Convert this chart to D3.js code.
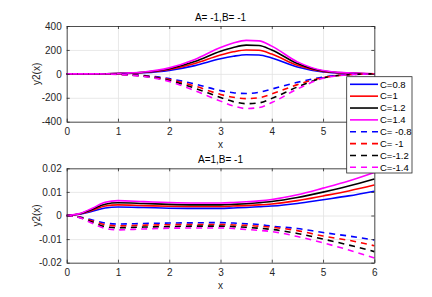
<!DOCTYPE html>
<meta charset="utf-8">
<style>

body {
  margin: 0;
  background: #fff;
  font-family: "Liberation Sans", Arial, sans-serif;
}

.axis text { font-size: 10px; fill: #262626; font-family: "Liberation Sans", Arial, sans-serif; }
.axis path, .axis line { stroke: #262626; stroke-width: 0.8px; fill: none; }
.grid line { stroke: #e2e2e2; stroke-width: 0.8px; }
.grid path { stroke: none; }
.title { font-size: 10px; fill: #000; text-anchor: middle; }
.label { font-size: 10px; fill: #262626; text-anchor: middle; }
.legend text { font-size: 9.5px; fill: #000; }
.series { fill: none; stroke-width: 1.6px; }

</style>
<body>
<script src="https://cdn.jsdelivr.net/npm/d3@7"></script>
<script>

// sample positions along x
var xVals = [0, 0.25, 0.5, 0.75, 1, 1.5, 2, 2.5, 3, 3.25, 3.5, 3.75, 4, 4.5, 5, 5.5, 6];
var xTicks = [0, 1, 2, 3, 4, 5, 6];

var labels = ["C=0.8", "C=1", "C=1.2", "C=1.4", "C= -0.8", "C= -1", "C=-1.2", "C=-1.4"];
var colors = ["#0000ff", "#ff0000", "#000000", "#ff00ff"];

// A=-1, B=-1 panel (rows: C=0.8, 1, 1.2, 1.4)
var topTicks = [-400, -200, 0, 200, 400];
var topSolid = [
  [0, 0, 0, 1, 2, 9, 29, 69, 126, 147, 160, 158, 133, 57, 16, 5, 0],
  [0, 0, 0, 1, 2, 11, 36, 86, 157, 184, 200, 197, 166, 71, 20, 6, 0],
  [0, 0, 0, 1, 3, 13, 43, 103, 189, 221, 240, 237, 199, 86, 24, 7, 0],
  [0, 0, 0, 1, 3, 15, 50, 120, 220, 258, 280, 276, 232, 100, 28, 8, 0]
];
// rows: C=-0.8, -1, -1.2, -1.4
var topDashed = [
  [0, 0, 0, -1, -3, -14, -40, -85, -140, -158, -164, -155, -127, -71, -28, -6, 0],
  [0, 0, 0, -1, -4, -17, -47, -102, -172, -196, -207, -200, -168, -90, -31, -7, 0],
  [0, 0, 0, -1, -4, -19, -55, -120, -198, -232, -249, -243, -205, -110, -34, -7, 0],
  [0, 0, 0, -1, -5, -22, -63, -140, -228, -268, -290, -282, -240, -127, -37, -8, 0]
];

// A=1, B=-1 panel
var botTicks = [-0.02, -0.01, 0, 0.01, 0.02];
var botSolid = [
  [0, 0.0005, 0.0018, 0.0032, 0.0036, 0.0034, 0.0031, 0.003, 0.003, 0.0032, 0.0034, 0.0037, 0.004, 0.0051, 0.0067, 0.0083, 0.0103],
  [0, 0.0006, 0.0022, 0.004, 0.0045, 0.0042, 0.0039, 0.0038, 0.0038, 0.004, 0.0042, 0.0045, 0.0049, 0.0063, 0.0083, 0.0104, 0.0129],
  [0, 0.0007, 0.0027, 0.0048, 0.0054, 0.0051, 0.0047, 0.0045, 0.0045, 0.0047, 0.005, 0.0054, 0.0059, 0.0076, 0.0099, 0.0125, 0.0155],
  [0, 0.0008, 0.0031, 0.0056, 0.0063, 0.0059, 0.0055, 0.0053, 0.0053, 0.0055, 0.0058, 0.0062, 0.0068, 0.0088, 0.0116, 0.0146, 0.0182]
];
var botDashed = [
  [0, -0.0006, -0.0019, -0.0032, -0.0036, -0.0034, -0.0032, -0.0031, -0.003, -0.0032, -0.0035, -0.0038, -0.0045, -0.0055, -0.0072, -0.0087, -0.0104],
  [0, -0.0007, -0.0023, -0.0039, -0.0044, -0.0041, -0.0039, -0.0038, -0.0038, -0.004, -0.0042, -0.0045, -0.005, -0.0064, -0.0087, -0.0105, -0.0128],
  [0, -0.0008, -0.0028, -0.0047, -0.0052, -0.0049, -0.0047, -0.0045, -0.0045, -0.0047, -0.005, -0.0054, -0.0059, -0.0076, -0.01, -0.0125, -0.0153],
  [0, -0.0009, -0.0033, -0.0055, -0.0061, -0.0057, -0.0054, -0.0053, -0.0053, -0.0055, -0.0059, -0.0063, -0.0068, -0.0089, -0.0116, -0.0146, -0.018]
];

var W = 432, H = 297;
var left = 66.7, right = 374.3;

var svg = d3.select("body").append("svg")
    .attr("width", W)
    .attr("height", H);

var x = d3.scaleLinear().domain([0, 6]).range([left, right]);

// hideLast: the top panel's last x label sits under the legend
function panel(yDomain, top, bottom, ticks, solid, dashed, title, hideLast) {
  var y = d3.scaleLinear().domain(yDomain).range([bottom, top]);
  var g = svg.append("g");

  // grid
  g.append("g").attr("class", "grid")
      .attr("transform", "translate(0," + bottom + ")")
      .call(d3.axisBottom(x).tickValues(xTicks).tickSize(-(bottom - top)).tickFormat(""));
  g.append("g").attr("class", "grid")
      .attr("transform", "translate(" + left + ",0)")
      .call(d3.axisLeft(y).tickValues(ticks).tickSize(-(right - left)).tickFormat(""));

  var line = d3.line()
      .x(function(d, i) { return x(xVals[i]); })
      .y(function(d) { return y(d); })
      .curve(d3.curveMonotoneX);

  solid.forEach(function(s, i) {
    g.append("path").attr("class", "series")
        .attr("d", line(s))
        .attr("stroke", colors[i]);
  });
  dashed.forEach(function(s, i) {
    g.append("path").attr("class", "series")
        .attr("d", line(s))
        .attr("stroke", colors[i])
        .attr("stroke-dasharray", "6,5");
  });

  // box with inward ticks
  g.append("g").attr("class", "axis")
      .attr("transform", "translate(0," + bottom + ")")
      .call(d3.axisBottom(x).tickValues(xTicks).tickSizeInner(-3).tickSizeOuter(0).tickPadding(6)
        .tickFormat(function(d) { return (hideLast && d === 6) ? "" : String(d); }));
  g.append("g").attr("class", "axis")
      .attr("transform", "translate(0," + top + ")")
      .call(d3.axisTop(x).tickValues(xTicks).tickSizeInner(-3).tickSizeOuter(0).tickFormat(""));
  g.append("g").attr("class", "axis")
      .attr("transform", "translate(" + left + ",0)")
      .call(d3.axisLeft(y).tickValues(ticks).tickSizeInner(-3).tickSizeOuter(0).tickPadding(5)
        .tickFormat(function(d) { return String(d); }));
  g.append("g").attr("class", "axis")
      .attr("transform", "translate(" + right + ",0)")
      .call(d3.axisRight(y).tickValues(ticks).tickSizeInner(-3).tickSizeOuter(0).tickFormat(""));

  g.append("text").attr("class", "title")
      .attr("x", (left + right) / 2)
      .attr("y", top - 5)
      .text(title);

  g.append("text").attr("class", "label")
      .attr("x", (left + right) / 2)
      .attr("y", bottom + 26)
      .text("x");

  g.append("text").attr("class", "label")
      .attr("transform", "translate(36," + ((top + bottom) / 2) + ") rotate(-90)")
      .attr("dy", "0.35em")
      .text("y2(x)");
}

panel([-400, 400], 26, 121.7, topTicks, topSolid, topDashed, "A= -1,B= -1", true);
panel([-0.02, 0.02], 168.3, 262.7, botTicks, botSolid, botDashed, "A=1,B= -1", false);

// legend
var legend = svg.append("g").attr("class", "legend");
legend.append("rect")
    .attr("x", 346.7).attr("y", 76.7)
    .attr("width", 65.3).attr("height", 96.3)
    .attr("fill", "#fff")
    .attr("stroke", "#262626")
    .attr("stroke-width", 0.8);

var item = legend.selectAll("g.item")
    .data(labels)
  .enter().append("g")
    .attr("class", "item")
    .attr("transform", function(d, i) { return "translate(0," + (84.3 + i * 11.86) + ")"; });

item.append("line")
    .attr("x1", 350).attr("x2", 378)
    .attr("stroke", function(d, i) { return colors[i % 4]; })
    .attr("stroke-width", 1.6)
    .attr("stroke-dasharray", function(d, i) { return i < 4 ? null : "6,5"; });

item.append("text")
    .attr("x", 380)
    .attr("dy", "0.35em")
    .text(function(d) { return d; });

</script>
